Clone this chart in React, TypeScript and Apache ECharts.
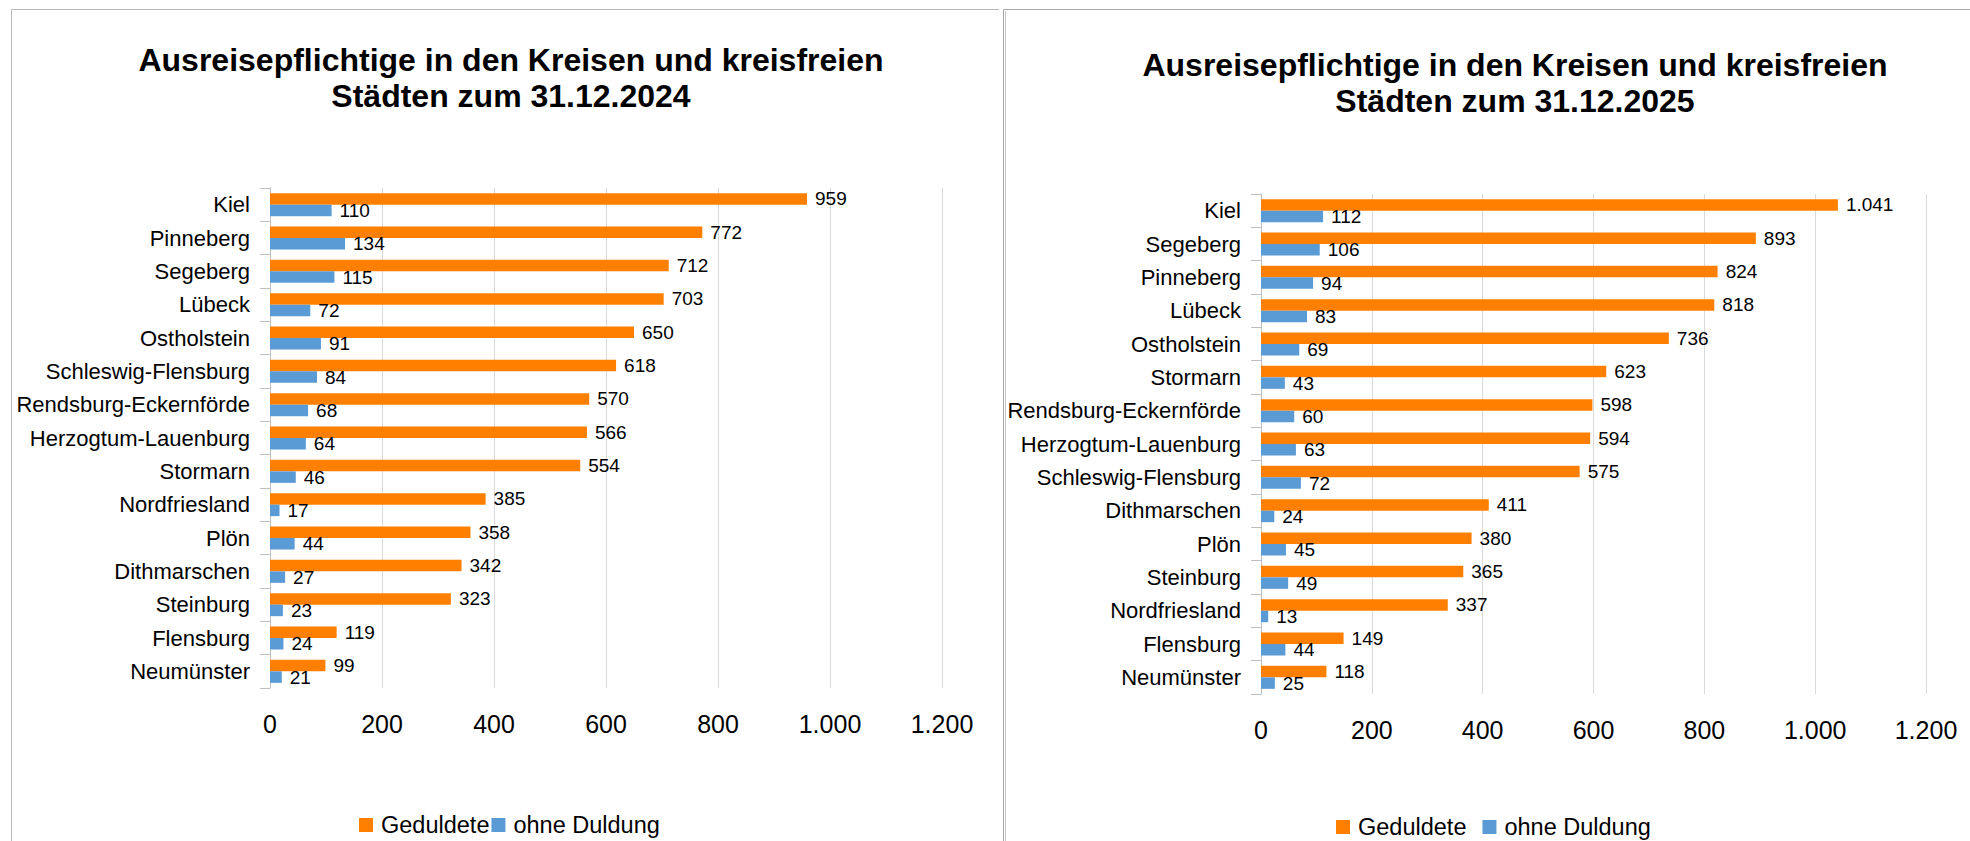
import React, { useEffect, useRef } from "react";
import * as echarts from "echarts";

// ---- Data ----
const categories2024 = [
  "Kiel", "Pinneberg", "Segeberg", "Lübeck", "Ostholstein", "Schleswig-Flensburg",
  "Rendsburg-Eckernförde", "Herzogtum-Lauenburg", "Stormarn", "Nordfriesland",
  "Plön", "Dithmarschen", "Steinburg", "Flensburg", "Neumünster",
];
const geduldete2024 = [959, 772, 712, 703, 650, 618, 570, 566, 554, 385, 358, 342, 323, 119, 99];
const ohneDuldung2024 = [110, 134, 115, 72, 91, 84, 68, 64, 46, 17, 44, 27, 23, 24, 21];

const categories2025 = [
  "Kiel", "Segeberg", "Pinneberg", "Lübeck", "Ostholstein", "Stormarn",
  "Rendsburg-Eckernförde", "Herzogtum-Lauenburg", "Schleswig-Flensburg", "Dithmarschen",
  "Plön", "Steinburg", "Nordfriesland", "Flensburg", "Neumünster",
];
const geduldete2025 = [1041, 893, 824, 818, 736, 623, 598, 594, 575, 411, 380, 365, 337, 149, 118];
const ohneDuldung2025 = [112, 106, 94, 83, 69, 43, 60, 63, 72, 24, 45, 49, 13, 44, 25];

const title2024 = "Ausreisepflichtige in den Kreisen und kreisfreien\nStädten zum 31.12.2024";
const title2025 = "Ausreisepflichtige in den Kreisen und kreisfreien\nStädten zum 31.12.2025";
const seriesNames = ["Geduldete", "ohne Duldung"];
const xMin = 0;
const xMax = 1200;
const xInterval = 200;

const ORANGE = "#FF8000";
const BLUE = "#5B9BD5";
const FONT = "'Liberation Sans', Arial, sans-serif";

function fmt(n: number): string {
  if (n >= 1000) {
    return Math.floor(n / 1000) + "." + String(n % 1000).padStart(3, "0");
  }
  return String(n);
}

export default function App() {
  const ref = useRef<HTMLDivElement>(null);

  useEffect(() => {
    document.body.style.margin = "0";
    const chart = echarts.init(ref.current!, null, { renderer: "svg" });

    const grids = [
      { left: 270, top: 188, width: 672, height: 500 },
      { left: 1261, top: 194, width: 665, height: 500 },
    ];
    const cats = [categories2024, categories2025];

    const xAxes = grids.map((_, i) => ({
      type: "value",
      gridIndex: i,
      min: xMin,
      max: xMax,
      interval: xInterval,
      axisLine: { show: false },
      axisTick: { show: false },
      splitLine: { show: true, lineStyle: { color: "#d9d9d9", width: 1 } },
      axisLabel: {
        fontSize: 25,
        color: "#000",
        fontFamily: FONT,
        margin: 23,
        formatter: (v: number) => fmt(v),
      },
    }));

    const yAxes = grids.map((_, i) => ({
      type: "category",
      gridIndex: i,
      inverse: true,
      data: cats[i],
      axisLine: { show: true, lineStyle: { color: "#bfbfbf", width: 1 } },
      axisTick: { show: true, length: 10, lineStyle: { color: "#bfbfbf" } },
      axisLabel: { fontSize: 22, color: "#000", fontFamily: FONT, margin: 20 },
    }));

    const label = {
      show: true,
      position: "right",
      distance: 8,
      fontSize: 19,
      color: "#000",
      fontFamily: FONT,
      formatter: (p: any) => fmt(p.value),
    };

    const mk = (name: string, data: number[], idx: number, color: string) => ({
      type: "bar",
      name,
      data,
      xAxisIndex: idx,
      yAxisIndex: idx,
      barGap: "0%",
      barCategoryGap: "31%",
      itemStyle: { color },
      label,
    });

    const series = [
      mk(seriesNames[0], geduldete2024, 0, ORANGE),
      mk(seriesNames[1], ohneDuldung2024, 0, BLUE),
      mk(seriesNames[0], geduldete2025, 1, ORANGE),
      mk(seriesNames[1], ohneDuldung2025, 1, BLUE),
    ];

    const titleStyle = {
      fontSize: 32,
      fontWeight: "bold",
      color: "#000",
      fontFamily: FONT,
      lineHeight: 36,
    };

    const legendBase = {
      orient: "horizontal",
      icon: "rect",
      itemWidth: 14,
      itemHeight: 14,
      data: seriesNames,
      selectedMode: false,
      padding: 0,
      textStyle: { fontSize: 23.5, color: "#000", fontFamily: FONT, padding: [0, 0, 0, 3] },
    };

    chart.setOption({
      animation: false,
      backgroundColor: "#fff",
      title: [
        { text: title2024, left: 511, top: 42, textAlign: "center", padding: 0, textStyle: titleStyle },
        { text: title2025, left: 1515, top: 47, textAlign: "center", padding: 0, textStyle: titleStyle },
      ],
      legend: [
        { ...legendBase, left: 359, top: 813, itemGap: 2 },
        { ...legendBase, left: 1336, top: 815, itemGap: 16 },
      ],
      grid: grids.map((g) => ({ ...g, containLabel: false })),
      xAxis: xAxes,
      yAxis: yAxes,
      series,
      graphic: [
        {
          type: "polyline",
          shape: { points: [[11.5, 900], [11.5, 9.5], [999, 9.5]] },
          style: { stroke: "#b8b8b8", lineWidth: 1, fill: "none" },
          silent: true,
        },
        {
          type: "polyline",
          shape: { points: [[1003.5, 900], [1003.5, 9.5], [1970, 9.5]] },
          style: { stroke: "#a8a8a8", lineWidth: 1, fill: "none" },
          silent: true,
        },
        {
          type: "line",
          shape: { x1: 1005.5, y1: 11, x2: 1005.5, y2: 900 },
          style: { stroke: "#c8c8c8", lineWidth: 1 },
          silent: true,
        },
      ],
    });

    return () => chart.dispose();
  }, []);

  return (
    <div
      ref={ref}
      style={{ position: "absolute", left: 0, top: 0, width: 1970, height: 841 }}
    />
  );
}
